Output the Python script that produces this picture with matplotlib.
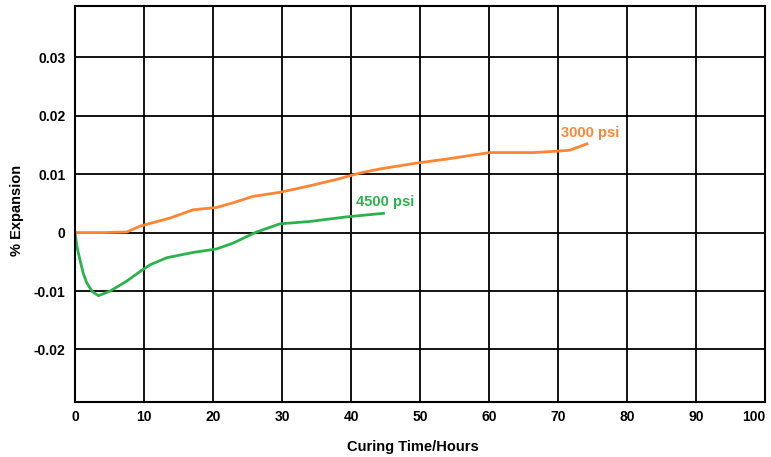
import matplotlib
matplotlib.use("Agg")
import matplotlib.pyplot as plt

# 3000 psi curve
hours_3000 = [0, 4, 7.5, 9.4, 13.8, 17.1, 20.5, 22.9, 25.8, 29.7, 33.6, 37.9, 41.3,
              44.2, 49.5, 53.9, 60.1, 66.4, 69.3, 71.7, 74.2]
exp_3000 = [0, 0, 0.0001, 0.0011, 0.0025, 0.0039, 0.0043, 0.0051, 0.0062, 0.0069, 0.0079,
            0.0091, 0.0102, 0.0109, 0.0119, 0.0126, 0.0137, 0.0137, 0.0139, 0.0141, 0.0152]

# 4500 psi curve
hours_4500 = [0, 0.3, 0.7, 1.2, 1.7, 2.5, 3.4, 5.1, 7.5, 9.5, 10.9, 13.3, 17.1, 20.5,
              22.9, 26.3, 29.7, 34.0, 39.4, 44.7]
exp_4500 = [0, -0.0025, -0.0046, -0.0070, -0.0086, -0.0101, -0.0108, -0.0100, -0.0083,
            -0.0066, -0.0055, -0.0043, -0.0034, -0.0028, -0.0018, 0.0001, 0.0015, 0.0019,
            0.0027, 0.0033]

x_ticks = list(range(0, 101, 10))
y_ticks = [-0.02, -0.01, 0, 0.01, 0.02, 0.03]
y_labels = ["-0.02", "-0.01", "0", "0.01", "0.02", "0.03"]

orange = "#FF8533"
green = "#2BB34B"

plt.rcParams["font.family"] = ["Liberation Sans Narrow", "Liberation Sans", "DejaVu Sans"]
plt.rcParams["font.weight"] = "bold"

fig = plt.figure(figsize=(7.71, 4.57), dpi=100)
ax = fig.add_axes([0.0973, 0.1204, 0.8949, 0.8665])

ax.plot(hours_3000, exp_3000, color=orange, lw=2)
ax.plot(hours_4500, exp_4500, color=green, lw=2)

ax.text(74.6, 0.0171, "3000 psi", color=orange, fontsize=10.5, fontweight="bold",
        ha="center", va="center")
ax.text(45, 0.0053, "4500 psi", color=green, fontsize=10.5, fontweight="bold",
        ha="center", va="center")

ax.set_xlim(0, 100)
ax.set_ylim(-0.029, 0.0388)
ax.set_xticks(x_ticks)
ax.set_yticks(y_ticks)
ax.set_yticklabels(y_labels)
ax.tick_params(length=0, labelsize=10)
ax.tick_params(axis="x", pad=6)
ax.tick_params(axis="y", pad=7)
for lbl in ax.get_xticklabels() + ax.get_yticklabels():
    lbl.set_fontweight("bold")
ax.get_xticklabels()[-1].set_horizontalalignment("right")
ax.grid(True, color="black", lw=1.3)
ax.set_axisbelow(True)
for sp in ax.spines.values():
    sp.set_linewidth(1.5)

fig.text(0.535, 0.022, "Curing Time/Hours", fontsize=10.5, fontweight="bold",
         ha="center", va="center")
fig.text(0.022, 0.54, "% Expansion", fontsize=10.5, fontweight="bold",
         ha="center", va="center", rotation=90)

fig.savefig("out.png", dpi=100)
